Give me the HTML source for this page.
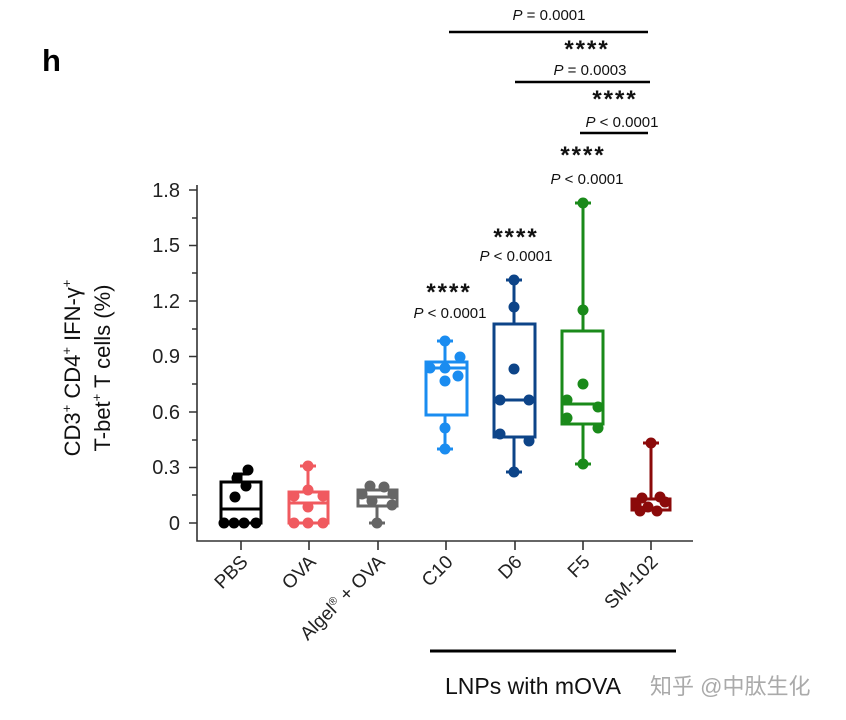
<!DOCTYPE html>
<html><head><meta charset="utf-8"><style>
html,body{margin:0;padding:0;background:#fff;}
svg{display:block;font-family:"Liberation Sans","Noto Sans CJK SC",sans-serif;}
</style></head><body>
<svg width="846" height="720" viewBox="0 0 846 720" xmlns="http://www.w3.org/2000/svg">
<rect width="846" height="720" fill="#fff"/>
<text x="42" y="71" font-size="31" font-weight="bold">h</text>
<g stroke="#333" stroke-width="1.6" fill="none">
<path d="M197 185 V541 H693"/>
<path d="M189 190H197 M189 245.5H197 M189 301H197 M189 356.5H197 M189 412H197 M189 467.5H197 M189 523H197"/>
<path d="M192 218H197 M192 273H197 M192 329H197 M192 384H197 M192 440H197 M192 495H197"/>
<path d="M241 541V550 M309 541V550 M378 541V550 M446 541V550 M515 541V550 M583 541V550 M651 541V550"/>
</g>
<g font-size="20" fill="#222" text-anchor="end">
<text x="180" y="197">1.8</text><text x="180" y="252">1.5</text><text x="180" y="308">1.2</text>
<text x="180" y="363">0.9</text><text x="180" y="419">0.6</text><text x="180" y="474">0.3</text><text x="180" y="530">0</text>
</g>
<g font-size="22" fill="#111" text-anchor="middle">
<text transform="translate(80,368) rotate(-90)">CD3<tspan font-size="13" dy="-9">+</tspan><tspan dy="9"> CD4</tspan><tspan font-size="13" dy="-9">+</tspan><tspan dy="9"> IFN-γ</tspan><tspan font-size="13" dy="-9">+</tspan></text>
<text transform="translate(110,368) rotate(-90)">T-bet<tspan font-size="13" dy="-9">+</tspan><tspan dy="9"> T cells (%)</tspan></text>
</g>
<g font-size="19" fill="#222" text-anchor="end">
<text transform="translate(249,563) rotate(-45)">PBS</text>
<text transform="translate(317,563) rotate(-45)">OVA</text>
<text transform="translate(386,563) rotate(-45)">Algel<tspan font-size="11" dy="-7">®</tspan><tspan dy="7"> + OVA</tspan></text>
<text transform="translate(454,563) rotate(-45)">C10</text>
<text transform="translate(523,563) rotate(-45)">D6</text>
<text transform="translate(591,563) rotate(-45)">F5</text>
<text transform="translate(659,563) rotate(-45)">SM-102</text>
</g>
<line x1="430" y1="651" x2="676" y2="651" stroke="#000" stroke-width="3"/>
<text x="445" y="694" font-size="23" fill="#111">LNPs with mOVA</text>
<text x="650" y="694" font-size="22" fill="#aaa">知乎 @中肽生化</text>

<g stroke="#000" stroke-width="3" fill="none">
<path d="M241 482V474 M233 474H249"/>
<rect x="221" y="482" width="40" height="41"/><path d="M221 509H261"/>
</g>
<g fill="#000">
<circle cx="248" cy="470" r="5.5"/><circle cx="237" cy="478" r="5.5"/><circle cx="246" cy="486" r="5.5"/><circle cx="235" cy="497" r="5.5"/>
<circle cx="224" cy="523" r="5.5"/><circle cx="234" cy="523" r="5.5"/><circle cx="244" cy="523" r="5.5"/><circle cx="256" cy="523" r="5.5"/>
</g>
<g stroke="#f05a5f" stroke-width="3" fill="none">
<path d="M308 491V466 M300 466H316"/>
<rect x="289" y="492" width="39" height="31"/><path d="M289 503H328"/>
</g>
<g fill="#f05a5f">
<circle cx="308" cy="466" r="5.5"/><circle cx="308" cy="490" r="5.5"/><circle cx="294" cy="496" r="5.5"/><circle cx="323" cy="496" r="5.5"/><circle cx="308" cy="507" r="5.5"/>
<circle cx="294" cy="523" r="5.5"/><circle cx="308" cy="523" r="5.5"/><circle cx="323" cy="523" r="5.5"/>
</g>
<g stroke="#666" stroke-width="3" fill="none">
<path d="M377 506V523 M369 523H385"/>
<rect x="358" y="490" width="39" height="16"/><path d="M358 497H397"/>
</g>
<g fill="#666">
<circle cx="370" cy="486" r="5.5"/><circle cx="384" cy="487" r="5.5"/><circle cx="362" cy="494" r="5.5"/><circle cx="393" cy="494" r="5.5"/>
<circle cx="372" cy="501" r="5.5"/><circle cx="392" cy="505" r="5.5"/><circle cx="377" cy="523" r="5.5"/>
</g>
<g stroke="#1a8cf0" stroke-width="3" fill="none">
<path d="M445 362V341 M437 341H453 M445 415V449 M437 449H453"/>
<rect x="426" y="362" width="41" height="53"/><path d="M426 368H467"/>
</g>
<g fill="#1a8cf0">
<circle cx="445" cy="341" r="5.5"/><circle cx="460" cy="357" r="5.5"/><circle cx="430" cy="368" r="5.5"/><circle cx="445" cy="368" r="5.5"/>
<circle cx="458" cy="376" r="5.5"/><circle cx="445" cy="381" r="5.5"/><circle cx="445" cy="428" r="5.5"/><circle cx="445" cy="449" r="5.5"/>
</g>
<g stroke="#0d4488" stroke-width="3" fill="none">
<path d="M514 324V280 M506 280H522 M514 437V472 M506 472H522"/>
<rect x="494" y="324" width="41" height="113"/><path d="M494 400H535"/>
</g>
<g fill="#0d4488">
<circle cx="514" cy="280" r="5.5"/><circle cx="514" cy="307" r="5.5"/><circle cx="514" cy="369" r="5.5"/><circle cx="500" cy="400" r="5.5"/>
<circle cx="529" cy="400" r="5.5"/><circle cx="500" cy="434" r="5.5"/><circle cx="529" cy="441" r="5.5"/><circle cx="514" cy="472" r="5.5"/>
</g>
<g stroke="#1a8a1a" stroke-width="3" fill="none">
<path d="M583 331V203 M575 203H591 M583 424V464 M575 464H591"/>
<rect x="562" y="331" width="41" height="93"/><path d="M562 404H603"/>
</g>
<g fill="#1a8a1a">
<circle cx="583" cy="203" r="5.5"/><circle cx="583" cy="310" r="5.5"/><circle cx="583" cy="384" r="5.5"/><circle cx="567" cy="400" r="5.5"/>
<circle cx="598" cy="407" r="5.5"/><circle cx="567" cy="418" r="5.5"/><circle cx="598" cy="428" r="5.5"/><circle cx="583" cy="464" r="5.5"/>
</g>
<g stroke="#8b0a0a" stroke-width="3" fill="none">
<path d="M651 499V443 M643 443H659"/>
<rect x="632" y="499" width="38" height="11"/>
</g>
<g fill="#8b0a0a">
<circle cx="651" cy="443" r="5.5"/><circle cx="642" cy="498" r="5.5"/><circle cx="660" cy="497" r="5.5"/><circle cx="636" cy="505" r="5.5"/>
<circle cx="665" cy="502" r="5.5"/><circle cx="648" cy="507" r="5.5"/><circle cx="657" cy="511" r="5.5"/><circle cx="640" cy="511" r="5.5"/>
</g>
<g fill="#111" text-anchor="middle">
<g font-size="24" font-weight="bold" letter-spacing="2">
<text x="449" y="300">****</text><text x="516" y="245">****</text><text x="583" y="163">****</text>
<text x="587" y="57">****</text><text x="615" y="107">****</text>
</g>
<g font-size="15">
<text x="450" y="318"><tspan font-style="italic">P</tspan> &lt; 0.0001</text>
<text x="516" y="261"><tspan font-style="italic">P</tspan> &lt; 0.0001</text>
<text x="587" y="184"><tspan font-style="italic">P</tspan> &lt; 0.0001</text>
<text x="549" y="20"><tspan font-style="italic">P</tspan> = 0.0001</text>
<text x="590" y="75"><tspan font-style="italic">P</tspan> = 0.0003</text>
<text x="622" y="127"><tspan font-style="italic">P</tspan> &lt; 0.0001</text>
</g>
</g>
<g stroke="#000" stroke-width="2.5">
<line x1="449" y1="32" x2="648" y2="32"/>
<line x1="515" y1="82" x2="650" y2="82"/>
<line x1="580" y1="133" x2="648" y2="133"/>
</g>
</svg>
</body></html>
